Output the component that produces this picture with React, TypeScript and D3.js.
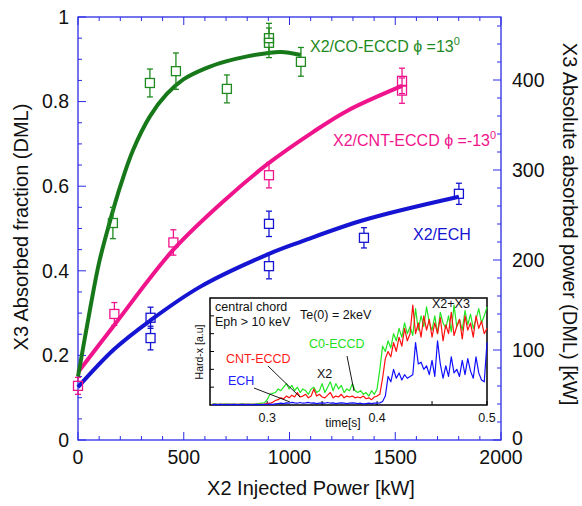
import React from 'react';
import * as d3 from 'd3';

// main plot: X2 injected power [kW] vs X3 absorbed fraction (DML)
const coPower = [165, 340, 463, 704, 903, 903, 1054];
const coFrac = [0.513, 0.844, 0.872, 0.83, 0.95, 0.939, 0.894];
const coErr = [0.037, 0.033, 0.043, 0.033, 0.035, 0.035, 0.034];

const cntPower = [0, 172, 451, 903, 1532, 1532];
const cntFrac = [0.128, 0.298, 0.467, 0.626, 0.849, 0.826];
const cntErr = [0.02, 0.027, 0.03, 0.03, 0.03, 0.03];

const echPower = [343, 343, 903, 903, 1352, 1801];
const echFrac = [0.289, 0.241, 0.511, 0.411, 0.478, 0.582];
const echErr = [0.025, 0.028, 0.03, 0.03, 0.024, 0.025];

// fitted curves
const coFitPower = [0, 50, 100, 150, 200, 260, 340, 420, 500, 600, 700, 800, 900, 960, 1054];
const coFitFrac = [0.15, 0.29, 0.42, 0.515, 0.6, 0.685, 0.765, 0.818, 0.853, 0.878, 0.895, 0.907, 0.915, 0.917, 0.91];
const cntFitPower = [0, 172, 451, 700, 903, 1111, 1272, 1532];
const cntFitFrac = [0.16, 0.272, 0.45, 0.57, 0.655, 0.728, 0.778, 0.837];
const echFitPower = [0, 172, 343, 577, 903, 1050, 1352, 1801];
const echFitFrac = [0.125, 0.215, 0.283, 0.362, 0.44, 0.468, 0.52, 0.575];

const xTicks = [0, 500, 1000, 1500, 2000];
const yTicks = [0, 0.2, 0.4, 0.6, 0.8, 1];
const y2Ticks = [0, 100, 200, 300, 400];

// inset: hard-x signal, central chord, sampled every 2.5 ms from 0.25 s
const tStart = 0.25;
const tStep = 0.0025;
const coSignal = [
  0.05, 0.06, 0.04, 0.05, 0.05, 0.06, 0.04, 0.05, 0.05, 0.04, 0.05, 0.06, 0.05, 0.04, 0.05, 0.05, 0.06, 0.08, 0.1, 0.12,
  0.3, 0.6, 0.65, 0.7, 0.9, 0.8, 1.0, 1.2, 0.9, 1.1, 0.8, 1.0, 0.7, 0.9, 0.8, 0.6, 0.9, 1.0, 0.7, 0.8,
  1.2, 0.7, 1.0, 1.3, 0.8, 1.2, 0.9, 1.1, 0.7, 0.9, 0.8, 1.2, 0.8, 0.7, 0.8, 0.6, 0.7, 0.5, 0.8, 0.6,
  0.9, 2.0, 3.3, 3.0, 3.6, 3.2, 4.0, 3.6, 4.3, 3.8, 4.6, 4.0, 4.4, 3.9, 5.4, 4.2, 5.0, 4.4, 5.5, 4.6,
  4.2, 5.0, 4.0, 5.2, 4.6, 4.3, 5.0, 4.1, 5.6, 4.4, 4.8, 4.2, 5.3, 4.5, 5.1, 4.3, 4.8, 5.4, 4.6, 5.0, 5.5,
];
const cntSignal = [
  0.03, 0.04, 0.03, 0.03, 0.04, 0.03, 0.03, 0.04, 0.03, 0.03, 0.04, 0.03, 0.03, 0.04, 0.03, 0.03, 0.04, 0.03, 0.04, 0.05,
  0.08, 0.1, 0.15, 0.25, 0.3, 0.4, 0.35, 0.5, 0.4, 0.55, 0.45, 0.7, 0.45, 0.5, 0.6, 0.4, 0.5, 0.9, 0.5, 0.6,
  0.45, 0.4, 0.55, 0.7, 0.4, 0.5, 0.45, 0.6, 0.4, 0.5, 0.45, 0.5, 0.4, 0.45, 0.4, 0.5, 0.35, 0.4, 0.3, 0.45,
  0.5, 0.6, 1.5, 2.6, 3.0, 2.7, 3.5, 3.0, 3.8, 3.3, 4.3, 3.6, 4.0, 5.6, 4.0, 4.6, 3.8, 5.0, 4.2, 4.8,
  3.8, 4.6, 4.0, 4.9, 3.6, 4.5, 4.0, 5.2, 3.9, 4.4, 4.8, 3.7, 5.0, 4.2, 4.6, 3.8, 5.0, 4.3, 4.7, 4.0, 4.3,
];
const echSignal = [
  0.02, 0.03, 0.02, 0.03, 0.02, 0.02, 0.03, 0.02, 0.03, 0.02, 0.02, 0.03, 0.02, 0.03, 0.02, 0.02, 0.03, 0.02, 0.02, 0.03,
  0.03, 0.05, 0.04, 0.06, 0.08, 0.1, 0.08, 0.12, 0.1, 0.15, 0.12, 0.1, 0.14, 0.1, 0.12, 0.15, 0.1, 0.12, 0.08, 0.1,
  0.12, 0.1, 0.14, 0.1, 0.12, 0.08, 0.1, 0.12, 0.1, 0.08, 0.1, 0.12, 0.1, 0.08, 0.1, 0.06, 0.08, 0.1, 0.08, 0.1,
  0.1, 0.12, 0.2, 0.5, 1.6, 1.3, 2.0, 1.5, 1.8, 1.4, 1.7, 1.5, 1.6, 1.7, 3.5, 2.3, 2.4, 2.0, 2.2, 1.7,
  2.5, 1.6, 3.6, 2.3, 1.5, 2.2, 1.6, 2.7, 1.8, 2.0, 1.6, 2.5, 1.7, 2.6, 1.9, 1.5, 2.7, 1.8, 1.4, 1.3, 3.5,
];
const insetXTicks = [0.3, 0.4, 0.5];
const insetXMinor = [0.3, 0.35, 0.4, 0.45, 0.5];

const FONT = 'Liberation Sans, Arial, sans-serif';
const AXIS = '#2b2be6';
const GREEN = '#1f8a1f';
const GREEN_LINE = '#17781a';
const PINK = '#f0148c';
const BLUE = '#1414d2';

const W = 582;
const H = 506;
const L = 78, R = 501, T = 17, B = 440;

const x = d3.scaleLinear().domain([0, 2000]).range([L, R]);
const y = d3.scaleLinear().domain([0, 1]).range([B, T]);
const y2 = d3.scaleLinear().domain([0, 470]).range([B, T]);

const IL = 210, IR = 487, IT = 298, IB = 405;
const ix = d3.scaleLinear().domain([0.248, 0.5]).range([IL, IR]);
const iy = d3.scaleLinear().domain([0, 6]).range([IB, IT]);

const fitLine = d3.line<[number, number]>()
  .x(d => x(d[0]))
  .y(d => y(d[1]))
  .curve(d3.curveCatmullRom.alpha(0.5));

const sigLine = d3.line<number>()
  .x((_, i) => ix(tStart + i * tStep))
  .y(d => iy(d));

const zip = (a: number[], b: number[]) => a.map((v, i) => [v, b[i]] as [number, number]);

const Points = ({ px, py, err, color }: { px: number[]; py: number[]; err: number[]; color: string }) => (
  <g stroke={color} fill="none" strokeWidth={1.3}>
    {px.map((p, i) => {
      const cx = x(p);
      const cy = y(py[i]);
      const top = y(py[i] + err[i]);
      const bot = y(py[i] - err[i]);
      return (
        <g key={i}>
          <line x1={cx} x2={cx} y1={top} y2={cy - 4.5} />
          <line x1={cx} x2={cx} y1={cy + 4.5} y2={bot} />
          <line x1={cx - 3} x2={cx + 3} y1={top} y2={top} />
          <line x1={cx - 3} x2={cx + 3} y1={bot} y2={bot} />
          <rect x={cx - 4.5} y={cy - 4.5} width={9} height={9} />
        </g>
      );
    })}
  </g>
);

export default function App() {
  const xMinor = d3.range(0, 2001, 100);
  const yMinor = d3.range(0, 1.0001, 0.05);
  const y2Minor = d3.range(0, 461, 20);

  return (
    <svg width={W} height={H} style={{ position: 'absolute', left: 0, top: 0, background: 'white' }} fontFamily={FONT}>
      <rect width={W} height={H} fill="white" />

      {/* frame */}
      <rect x={L} y={T} width={R - L} height={B - T} fill="none" stroke={AXIS} strokeWidth={1.3} />
      <g stroke={AXIS} strokeWidth={1}>
        {xMinor.map(v => {
          const len = v % 500 === 0 ? 8 : 4;
          return (
            <g key={v}>
              <line x1={x(v)} x2={x(v)} y1={B} y2={B - len} />
              <line x1={x(v)} x2={x(v)} y1={T} y2={T + len} />
            </g>
          );
        })}
        {yMinor.map((v, i) => (
          <line key={i} x1={L} x2={L + (i % 4 === 0 ? 8 : 4)} y1={y(v)} y2={y(v)} />
        ))}
        {y2Minor.map(v => (
          <line key={v} x1={R} x2={R - (v % 100 === 0 ? 8 : 4)} y1={y2(v)} y2={y2(v)} />
        ))}
      </g>

      {/* tick labels */}
      <g fontSize={19.5} fill="#111">
        {xTicks.map(v => (
          <text key={v} x={x(v)} y={B + 24} textAnchor="middle">{v}</text>
        ))}
        {yTicks.map(v => (
          <text key={v} x={L - 9} y={y(v)} dy="0.35em" textAnchor="end">{v === 0 || v === 1 ? v : v.toFixed(1)}</text>
        ))}
        {y2Ticks.map(v => (
          <text key={v} x={R + 11} y={y2(v) - (v === 0 ? 2 : 0)} dy="0.35em" textAnchor="start">{v}</text>
        ))}
      </g>

      {/* axis titles */}
      <g fontSize={20} fill="#111">
        <text x={311} y={495} textAnchor="middle">X2 Injected Power [kW]</text>
        <text transform={`translate(28,227) rotate(-90)`} textAnchor="middle">X3 Absorbed fraction (DML)</text>
        <text transform={`translate(563,224) rotate(90)`} textAnchor="middle">X3 Absolute absorbed power (DML) [kW]</text>
      </g>

      {/* fitted curves */}
      <path d={fitLine(zip(echFitPower, echFitFrac)) || ''} fill="none" stroke={BLUE} strokeWidth={4} />
      <path d={fitLine(zip(cntFitPower, cntFitFrac)) || ''} fill="none" stroke={PINK} strokeWidth={4} />
      <path d={fitLine(zip(coFitPower, coFitFrac)) || ''} fill="none" stroke={GREEN_LINE} strokeWidth={4} />

      {/* data points */}
      <Points px={echPower} py={echFrac} err={echErr} color={BLUE} />
      <Points px={coPower} py={coFrac} err={coErr} color={GREEN} />
      <Points px={cntPower} py={cntFrac} err={cntErr} color={PINK} />

      {/* series labels */}
      <g fontSize={16}>
        <text x={310} y={52} fill={GREEN}>
          X2/CO-ECCD <tspan>ϕ</tspan> =13<tspan dy={-7} fontSize={11}>0</tspan>
        </text>
        <text x={333} y={146} fill={PINK}>
          X2/CNT-ECCD <tspan>ϕ</tspan> =-13<tspan dy={-7} fontSize={11}>0</tspan>
        </text>
        <text x={413} y={240} fill={BLUE}>X2/ECH</text>
      </g>

      {/* inset */}
      <rect x={IL} y={IT} width={IR - IL} height={IB - IT} fill="white" stroke="black" strokeWidth={1.5} />
      <g stroke="black" strokeWidth={1}>
        {d3.range(1, 6).map(v => (
          <line key={v} x1={IL} x2={IL + 4} y1={iy(v)} y2={iy(v)} />
        ))}
        {insetXMinor.map(v => (
          <line key={v} x1={ix(v)} x2={ix(v)} y1={IB} y2={IB - 4} />
        ))}
      </g>
      <g fill="none" strokeWidth={1.2} strokeLinejoin="round">
        <path d={sigLine(coSignal) || ''} stroke="#22e622" />
        <path d={sigLine(cntSignal) || ''} stroke="#ff1010" />
        <path d={sigLine(echSignal) || ''} stroke="#1010ff" />
      </g>
      <g stroke="black" strokeWidth={0.9}>
        <line x1={268} y1={366} x2={300} y2={397} />
        <line x1={254} y1={388} x2={290} y2={402} />
        <line x1={347} y1={356} x2={354} y2={391} />
      </g>
      <g fontSize={12.5} fill="#111">
        {insetXTicks.map(v => (
          <text key={v} x={ix(v)} y={IB + 17} textAnchor="middle">{v.toFixed(1)}</text>
        ))}
        <text x={343} y={427} textAnchor="middle" fontSize={12}>time[s]</text>
        <text x={215} y={311}>central chord</text>
        <text x={215} y={326}>Eph &gt; 10 keV</text>
        <text x={300} y={319}>Te(0) = 2keV</text>
        <text x={432} y={308}>X2+X3</text>
        <text x={317} y={378}>X2</text>
        <text x={226} y={363} fill="#ff1a1a">CNT-ECCD</text>
        <text x={228} y={385} fill="#2020ff">ECH</text>
        <text x={309} y={348} fill="#22e022">C0-ECCD</text>
        <text transform="translate(203,352) rotate(-90)" textAnchor="middle" fontSize={10.5}>Hard-x  [a.u]</text>
      </g>
    </svg>
  );
}
